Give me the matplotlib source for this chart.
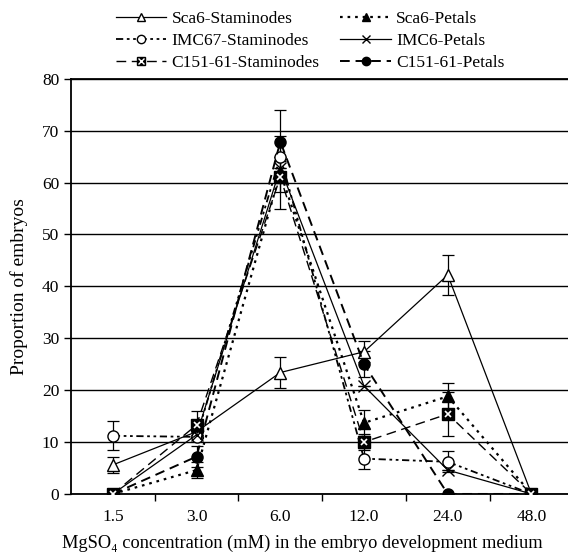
import numpy as np
import matplotlib
matplotlib.use('Agg')
import matplotlib.pyplot as plt
from matplotlib.lines import Line2D
from matplotlib.ticker import FixedLocator, NullFormatter

plt.rcParams['font.family'] = ['Liberation Serif', 'DejaVu Serif']

# MgSO4 concentration categories (mM)
concentracoes = ['1.5', '3.0', '6.0', '12.0', '24.0', '48.0']

sca6_estaminodios = [5.6, 12.0, 23.4, 27.4, 42.2, 0]
sca6_estaminodios_err = [1.5, 0, 3.0, 2.0, 3.8, 0]
sca6_petalas = [0, 4.6, 62.0, 13.7, 18.8, 0]
sca6_petalas_err = [0, 1.5, 7.0, 2.5, 2.5, 0]
imc67_estaminodios = [11.2, 11.0, 65.0, 6.8, 6.2, 0]
imc67_estaminodios_err = [2.8, 0, 0, 2.0, 2.0, 0]
imc6_petalas = [0, 11.4, 62.8, 20.8, 4.6, 0]
imc6_petalas_err = [0, 0, 0, 0, 0, 0]
c151_estaminodios = [0, 13.3, 61.1, 10.0, 15.4, 0]
c151_estaminodios_err = [0, 2.6, 3.0, 1.5, 4.2, 0]
c151_petalas = [0, 7.2, 67.9, 25.0, 0, 0]
c151_petalas_err = [0, 2.0, 6.0, 2.5, 0, 0]

x = np.arange(len(concentracoes))

fig = plt.figure(figsize=(5.68, 5.55), dpi=100)
ax = fig.add_axes([0.125, 0.110, 0.880, 0.748])

series = [
    ('Sca6-Staminodes', sca6_estaminodios, sca6_estaminodios_err,
     dict(ls='-', marker='^', mfc='white', lw=0.9)),
    ('Sca6-Petals', sca6_petalas, sca6_petalas_err,
     dict(ls=(0, (1.2, 2.2)), marker='^', mfc='black', lw=1.6)),
    ('IMC67-Staminodes', imc67_estaminodios, imc67_estaminodios_err,
     dict(ls=(0, (4, 2, 1.5, 2, 1.5, 2)), marker='o', mfc='white', lw=1.3)),
    ('IMC6-Petals', imc6_petalas, imc6_petalas_err,
     dict(ls='-', marker='x', mfc='black', lw=0.9)),
    ('C151-61-Staminodes', c151_estaminodios, c151_estaminodios_err,
     dict(ls=(0, (7, 4)), marker='s', mfc='black', lw=1.0)),
    ('C151-61-Petals', c151_petalas, c151_petalas_err,
     dict(ls=(0, (5, 3)), marker='o', mfc='black', lw=1.4)),
]

legenda = {}
for nome, valores, erros, estilo in series:
    ax.errorbar(x, valores, yerr=erros, color='black', markersize=8,
                mec='black', capsize=4, elinewidth=0.9, capthick=0.9,
                zorder=3, **estilo)
    h = Line2D([], [], color='black', markersize=6, mec='black', **estilo)
    if nome == 'C151-61-Staminodes':
        ax.plot(x, valores, ls='none', marker='x', color='white',
                markersize=5, mew=1.2, zorder=4)
        h = (h, Line2D([], [], ls='none', marker='x', color='white',
                       markersize=4, mew=1.0))
    legenda[nome] = h

ax.set_xlim(-0.5, 5.47)
ax.set_ylim(0, 80)
ax.set_yticks(np.arange(0, 81, 10))
ax.yaxis.grid(True, color='black', lw=1.0)
ax.set_axisbelow(True)

ax.set_xticks(x)
ax.set_xticklabels(concentracoes)
ax.tick_params(axis='x', which='major', length=0, pad=11, labelsize=12.5)
ax.xaxis.set_minor_locator(FixedLocator(np.arange(0.5, 5.5, 1)))
ax.xaxis.set_minor_formatter(NullFormatter())
ax.tick_params(axis='x', which='minor', length=5, direction='out', width=1)
ax.tick_params(axis='y', length=5, direction='out', labelsize=12.5, width=1)

for lado in ['left', 'bottom', 'top']:
    ax.spines[lado].set_linewidth(1.3)
ax.spines['right'].set_visible(False)

ax.set_ylabel('Proportion of embryos', fontsize=14, labelpad=10)
ax.set_xlabel('MgSO₄ concentration (mM) in the embryo development medium',
              fontsize=13.2, labelpad=6)
ax.xaxis.set_label_coords(0.463, -0.097)

# matplotlib fills the legend column by column
ordem = ['Sca6-Staminodes', 'IMC67-Staminodes', 'C151-61-Staminodes',
         'Sca6-Petals', 'IMC6-Petals', 'C151-61-Petals']
fig.legend([legenda[n] for n in ordem], ordem, loc='upper center',
           bbox_to_anchor=(0.546, 0.996), ncol=2, frameon=False,
           fontsize=12.5, handlelength=2.9, borderpad=0,
           columnspacing=1.2, labelspacing=0.33, handletextpad=0.3)

fig.savefig('out.png', dpi=100)
